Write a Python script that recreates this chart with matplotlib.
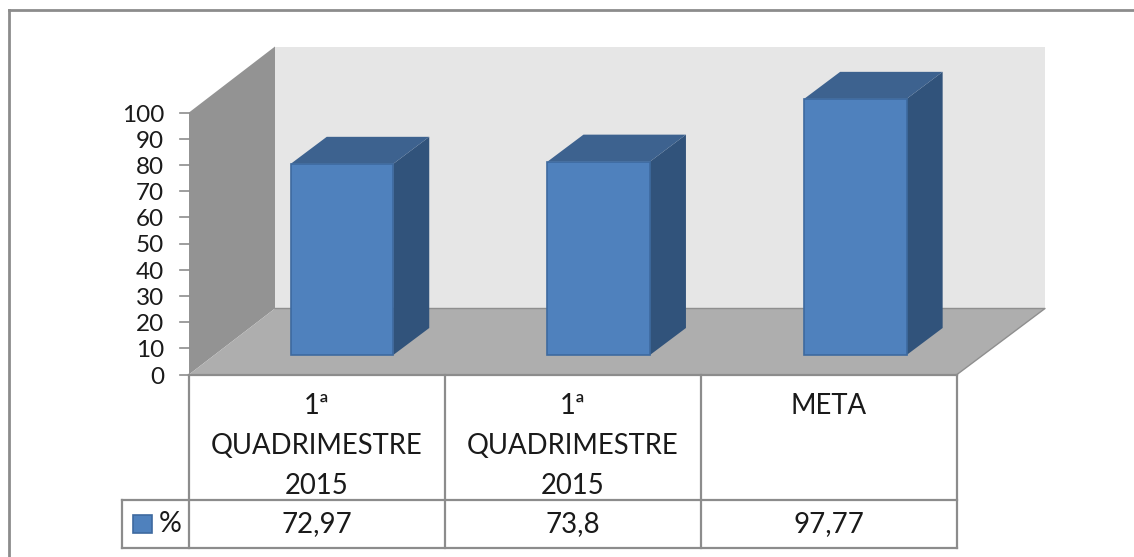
import matplotlib
matplotlib.use('Agg')
import matplotlib.pyplot as plt
from matplotlib.patches import Polygon, Rectangle

plt.rcParams['font.family'] = ['Lato', 'DejaVu Sans']

categories = ['1ª\nQUADRIMESTRE\n2015', '1ª\nQUADRIMESTRE\n2015', 'META']
value_labels = ['72,97', '73,8', '97,77']
values = [72.97, 73.8, 97.77]
y_ticks = [0, 10, 20, 30, 40, 50, 60, 70, 80, 90, 100]
series_name = '%'

W, H = 1134, 557
PX_X = 256.0          # pixels per category
PX_Y = 2.62           # pixels per y unit

fig = plt.figure(figsize=(W / 100, H / 100), dpi=100, facecolor='white')
ax = fig.add_axes([189 / W, 1 - 374.5 / H, 768 / W, 262 / H])
ax.set_xlim(-0.5, 2.5)
ax.set_ylim(0, 100)
ax.axis('off')


def px(dx):
    return dx / PX_X


def py(dy):
    return dy / PX_Y


def poly(pts, color, edge=None, lw=0, z=1):
    ax.add_patch(Polygon(pts, closed=True, facecolor=color, edgecolor=edge or color,
                         linewidth=lw, clip_on=False, zorder=z))


# paredes e piso 3D
dx_f, dx_r, dy_f = px(86), px(88), py(66)
poly([(-0.5 + dx_f, dy_f), (2.5 + dx_r, dy_f), (2.5 + dx_r, 100 + dy_f), (-0.5 + dx_f, 100 + dy_f)], '#e6e6e6')
poly([(-0.5, 0), (-0.5 + dx_f, dy_f), (-0.5 + dx_f, 100 + dy_f), (-0.5, 100)], '#939393')
poly([(-0.5, 0), (2.5, 0), (2.5 + dx_r, dy_f), (-0.5 + dx_f, dy_f)], '#aeaeae')
ax.plot([2.5, 2.5 + dx_r, -0.5 + dx_f], [0, dy_f, dy_f], color='#8f8f8f', lw=1, clip_on=False, zorder=2)

# colunas
bar_w = 102.5 / PX_X
bar_step = 256.7 / PX_X
shift = px(25)
base = py(19.5)
dx_b, dy_b = px(36), py(27)
for i, v in enumerate(values):
    center = i * bar_step + shift
    left = center - bar_w / 2
    right = left + bar_w
    top = base + v
    poly([(right, base), (right + dx_b, base + dy_b), (right + dx_b, top + dy_b), (right, top)], '#31537b', z=3)
    poly([(left, top), (right, top), (right + dx_b, top + dy_b), (left + dx_b, top + dy_b)], '#3d628f', z=3)
    ax.bar(center, v, width=bar_w, bottom=base, color='#4f81bd', edgecolor='#3e6a9f',
           linewidth=1.2, clip_on=False, zorder=4)

# eixo y
for t in y_ticks:
    ax.plot([-0.5 - px(9), -0.5], [t, t], color='#8c8c8c', lw=1.2, clip_on=False, zorder=5)
    ax.text(-0.5 - px(25), t + py(-2.5), str(t), ha='right', va='center', fontsize=17.5, color='#1a1a1a',
            clip_on=False)

# tabela de dados
line_c = '#8c8c8c'
table_top, table_mid, table_bot = 0, py(-125.5), py(-173.5)
leg_left = -0.5 - px(67)
for k in range(4):
    ax.plot([k - 0.5, k - 0.5], [table_top, table_bot], color=line_c, lw=1.6, clip_on=False, zorder=5)
ax.plot([-0.5, 2.5], [table_top, table_top], color=line_c, lw=1.6, clip_on=False, zorder=5)
ax.plot([leg_left, 2.5], [table_mid, table_mid], color=line_c, lw=1.6, clip_on=False, zorder=5)
ax.plot([leg_left, 2.5], [table_bot, table_bot], color=line_c, lw=1.6, clip_on=False, zorder=5)
ax.plot([leg_left, leg_left], [table_mid, table_bot], color=line_c, lw=1.6, clip_on=False, zorder=5)

for i, cat in enumerate(categories):
    for j, part in enumerate(cat.split('\n')):
        ax.text(i, py(-31.5 - 40 * j), part, ha='center', va='center', fontsize=19.8,
                color='#1a1a1a', clip_on=False)
    ax.text(i, table_mid + py(-24.5), value_labels[i], ha='center', va='center', fontsize=20,
            color='#1a1a1a', clip_on=False)

ax.add_patch(Rectangle((leg_left + px(11), table_mid + py(-33)), px(19), py(18), facecolor='#4f81bd',
                       edgecolor='#3e6a9f', linewidth=1.2, clip_on=False, zorder=5))
ax.text(-0.5 - px(7), table_mid + py(-24), series_name, ha='right', va='center', fontsize=20.5,
        color='#1a1a1a', clip_on=False)

# moldura externa
for seg in ([(9, 10), (1134, 10)], [(9, 10), (9, 557)]):
    fig.add_artist(plt.Line2D([p[0] / W for p in seg], [1 - p[1] / H for p in seg], color='#8c8c8c', lw=2))

fig.savefig('out.png', dpi=100)
